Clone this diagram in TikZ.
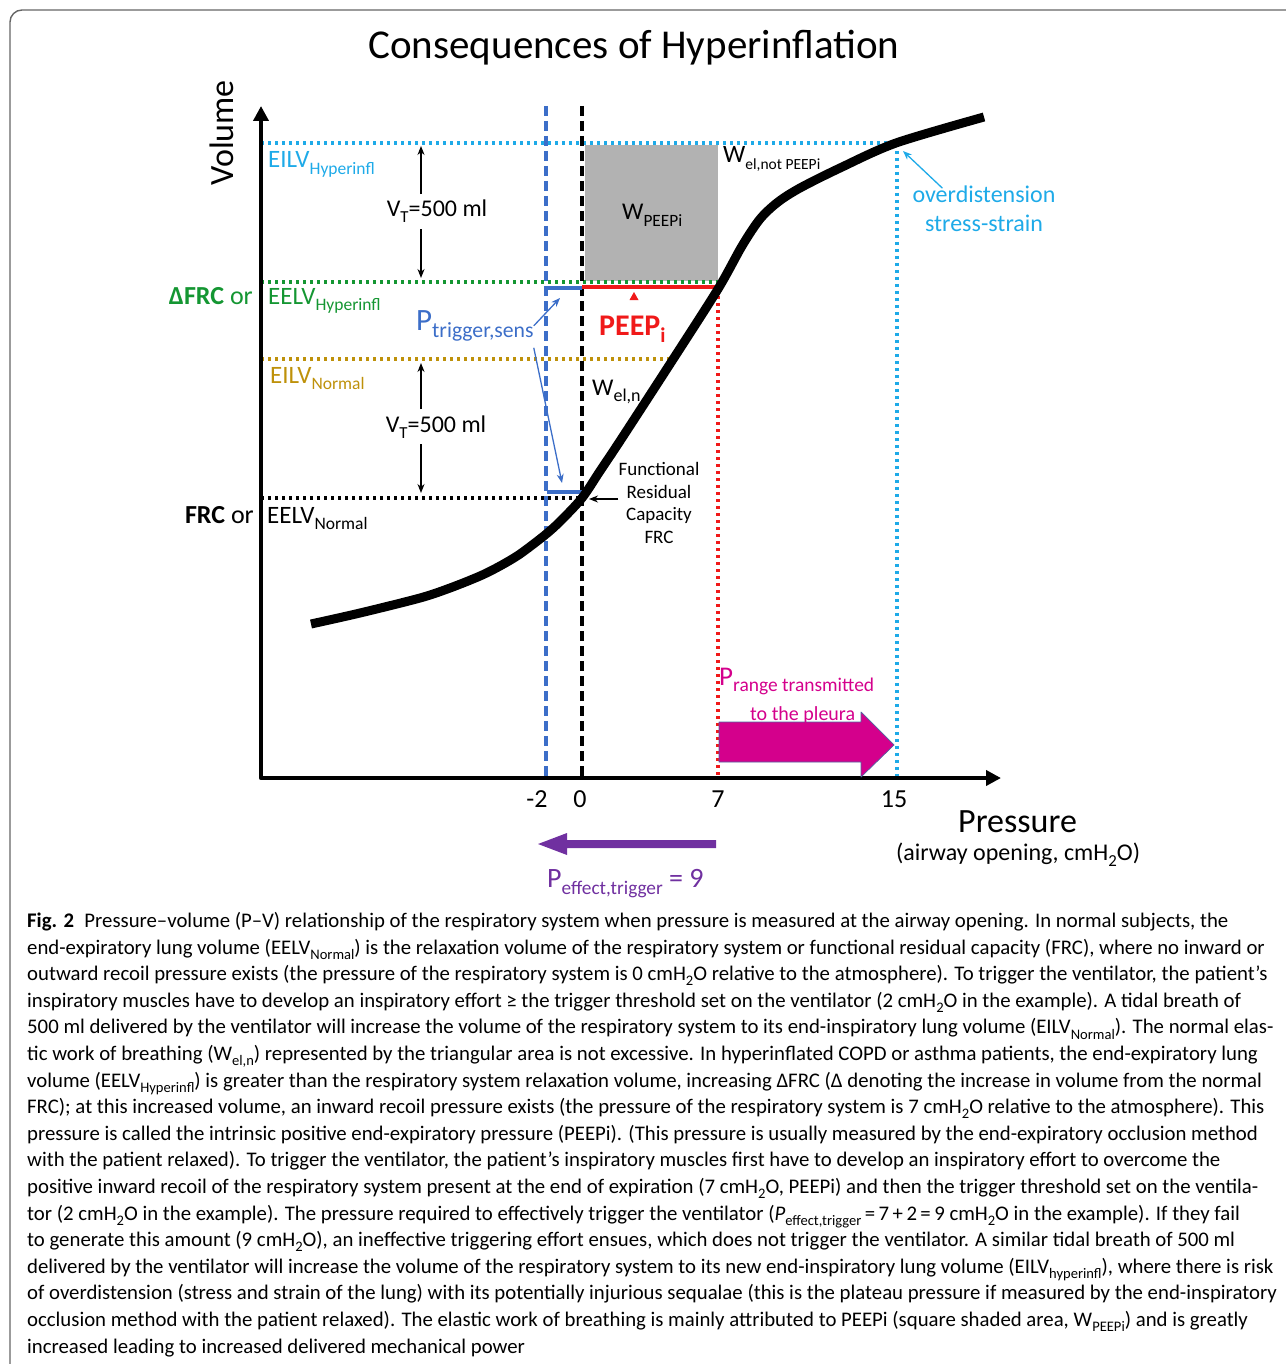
\documentclass[tikz,border=0pt]{standalone}
\usepackage{fontspec}
\setmainfont{Carlito}
\usetikzlibrary{arrows.meta}
\definecolor{skyc}{RGB}{30,170,232}
\definecolor{grnc}{RGB}{20,150,50}
\definecolor{goldc}{RGB}{190,145,10}
\definecolor{bluec}{RGB}{60,110,200}
\definecolor{redc}{RGB}{240,25,25}
\definecolor{magc}{RGB}{212,0,140}
\definecolor{purc}{RGB}{112,48,160}
\makeatletter
\newcommand{\fs}[1]{\fontsize{#1}{#1}\selectfont}
\newcommand{\lo}[2][.7]{\raisebox{-.25em}{\fontsize{\the\dimexpr#1\dimexpr\f@size pt\relax\relax}{0pt}\selectfont #2}}
\makeatother
\begin{document}
\begin{tikzpicture}[x=1pt,y=-1pt,line join=round,>={Stealth[length=9pt,width=7pt]},
  lbl/.style={inner sep=0pt,anchor=base west},
  lvl/.style={line width=3.4pt,dash pattern=on 3.4pt off 3.6pt},
  vdash/.style={line width=3.4pt,dash pattern=on 10pt off 5pt},
  thinarr/.style={->,line width=1.3pt}]
\useasboundingbox (0,0) rectangle (1285,1364);
\def\xax{261} \def\yax{778}
% frame and title
\draw[black!60,line width=1.4pt,rounded corners=12pt] (10,10) rectangle (1330,1400);
\node[font=\fs{41},inner sep=0pt,anchor=base] (title) at (634,59) {Consequences of Hyperinflation};
% work of PEEPi
\fill[black!30] (585,145) rectangle (718,281);
% volume levels
\coordinate (eilvH) at (\xax,143);
\coordinate (eelvH) at (\xax,282);
\coordinate (eilvN) at (\xax,359);
\coordinate (eelvN) at (\xax,498);
\draw[lvl,skyc] (eilvH) -- (897,143) -- (897,\yax);
\draw[lvl,grnc] (eelvH) -- (718,282);
\draw[lvl,goldc] (eilvN) -- (672,359);
\draw[lvl] (eelvN) -- (588,498);
\draw[lvl,redc] (718,289) -- (718,\yax);
\draw[vdash,bluec] (546,106) -- (546,\yax);
\draw[vdash] (582,106) -- (582,\yax);
\draw[bluec,line width=4pt] (547,288) -- (582,288);
\draw[bluec,line width=4pt] (547,492) -- (582,492);
\draw[redc,line width=4pt] (582,287) -- (718,287);
\fill[redc] (634,292) -- (638.5,300) -- (629.5,300) -- cycle;
% P-V curve
\draw[line width=9pt] plot[smooth,tension=0.5] coordinates {(311,624) (360,613) (420,598) (450,588) (480,576) (500,566) (520,554) (545,535) (560,521.5) (582,498) (600,471) (620,441) (670,364) (718,289) (742,246) (760,219) (778,202) (800,188) (840,168) (896,143) (984,117)};
% axes
\coordinate (O) at (\xax,\yax);
\coordinate (ytip) at (\xax,106);
\coordinate (xtip) at (1001,\yax);
\draw[line width=4.5pt,{Triangle[length=15pt,width=15pt]}-{Triangle[length=15pt,width=15pt]}] (ytip) -- (O) -- (xtip);
\node[font=\fs{34},rotate=90,inner sep=0pt] (vol) at (222,133) {Volume};
\foreach \x/\t [count=\i] in {537/-2,580/0,718/7,894/15}
  \node[font=\fs{26},anchor=base,inner sep=0pt] (tk\i) at (\x,807) {\t};
\node[lbl,font=\fs{34}] (pres) at (958,832) {Pressure};
\node[lbl,font=\fs{24}] (presu) at (896,860) {(airway opening, cmH\lo{2}O)};
% level labels
\node[lbl,font=\fs{25},text=skyc] (lEILVh) at (268,168) {EILV\lo{Hyperinfl}};
\node[lbl,font=\fs{26},text=grnc,anchor=base east] (lDFRC) at (253,304) {\textbf{ΔFRC} or};
\node[lbl,font=\fs{25},text=grnc] (lEELVh) at (268,304) {EELV\lo{Hyperinfl}};
\node[lbl,font=\fs{25},text=goldc] (lEILVn) at (270,383) {EILV\lo{Normal}};
\node[lbl,font=\fs{26},anchor=base east] (lFRC) at (254,523) {\textbf{FRC} or};
\node[lbl,font=\fs{25}] (lEELVn) at (267,523) {EELV\lo{Normal}};
% tidal volumes
\coordinate (vtx) at (421,0);
\node[font=\fs{24},inner sep=6pt,anchor=base] (vtU) at (437,217) {V\lo{T}=500 ml};
\draw[thinarr] (vtU.north -| vtx) -- (vtx |- eilvH) [shorten >=3pt];
\draw[thinarr] (vtU.south -| vtx) -- (vtx |- eelvH) [shorten >=4pt];
\node[font=\fs{24},inner sep=6pt,anchor=base] (vtL) at (436,432) {V\lo{T}=500 ml};
\draw[thinarr] (vtL.north -| vtx) -- (vtx |- eilvN) [shorten >=4pt];
\draw[thinarr] (vtL.south -| vtx) -- (vtx |- eelvN) [shorten >=5pt];
% trigger
\node[lbl,font=\fs{31},text=bluec] (ptrig) at (416,330) {P\lo{trigger,sens}};
\coordinate (trigU) at (560,298);
\coordinate (trigL) at (562,483);
\draw[thinarr,bluec] (ptrig.east) -- (trigU);
\draw[thinarr,bluec] ([yshift=-22pt]ptrig.east) -- (trigL);
\node[lbl,font=\bfseries\fs{30},text=redc] (peep) at (599,335) {PEEP\lo{i}};
% work labels
\node[lbl,font=\fs{24}] (wpeepi) at (622,220) {W\lo[.72]{PEEPi}};
\node[lbl,font=\fs{25}] (welnot) at (723,163) {W\lo[.62]{el,not PEEPi}};
\node[lbl,font=\fs{24}] (weln) at (592,395) {W\lo[.75]{el,n}};
% overdistension
\node[lbl,anchor=base,font=\fs{24},text=skyc] (od1) at (984,203) {overdistension};
\node[lbl,anchor=base,font=\fs{24},text=skyc] (od2) at (984,232) {stress-strain};
\coordinate (ovpt) at (903,151);
\draw[thinarr,skyc] ([xshift=30pt,yshift=-2pt]od1.north west) -- (ovpt);
% FRC
\node[align=center,anchor=north,inner sep=0pt,font=\fontsize{19}{22.7}\selectfont] (frc) at (659,462) {Functional\\Residual\\Capacity\\FRC};
\coordinate (frcpt) at (589,499);
\draw[thinarr] (frc.west |- frcpt) -- (frcpt);
% pressure transmitted to the pleura
\filldraw[fill=magc,draw={rgb,255:red,80;green,100;blue,160},line width=0.7pt] (719,722) -- (861,722) -- (861,712) -- (894,745) -- (861,777) -- (861,762) -- (719,762) -- cycle;
\node[lbl,font=\fs{27},text=magc] (prange) at (719,685) {P\lo[.72]{range transmitted}};
\node[lbl,font=\fs{20},text=magc] (pleura) at (750,720) {to the pleura};
% effective trigger
\fill[purc] (716,840) -- (567,840) -- (567,833) -- (538,844) -- (567,855) -- (567,848) -- (716,848) -- cycle;
\node[lbl,font=\fs{28},text=purc] (peff) at (547,887) {P\lo[.69]{effect,trigger} = 9};
% caption
\node[anchor=north west,inner sep=0pt,align=left,font=\fontsize{20.78}{26.6}\selectfont] (capt) at (27,912) {%
\textbf{Fig. 2}\enspace Pressure–volume (P–V) relationship of the respiratory system when pressure is measured at the airway opening. In normal subjects, the\\
end-expiratory lung volume (EELV\lo{Normal}) is the relaxation volume of the respiratory system or functional residual capacity (FRC), where no inward or\\
outward recoil pressure exists (the pressure of the respiratory system is 0 cmH\lo{2}O relative to the atmosphere). To trigger the ventilator, the patient’s\\
inspiratory muscles have to develop an inspiratory effort ≥ the trigger threshold set on the ventilator (2 cmH\lo{2}O in the example). A tidal breath of\\
500 ml delivered by the ventilator will increase the volume of the respiratory system to its end-inspiratory lung volume (EILV\lo{Normal}). The normal elas-\\
tic work of breathing (W\lo{el,n}) represented by the triangular area is not excessive. In hyperinflated COPD or asthma patients, the end-expiratory lung\\
volume (EELV\lo{Hyperinfl}) is greater than the respiratory system relaxation volume, increasing ΔFRC (Δ denoting the increase in volume from the normal\\
FRC); at this increased volume, an inward recoil pressure exists (the pressure of the respiratory system is 7 cmH\lo{2}O relative to the atmosphere). This\\
pressure is called the intrinsic positive end-expiratory pressure (PEEPi). (This pressure is usually measured by the end-expiratory occlusion method\\
with the patient relaxed). To trigger the ventilator, the patient’s inspiratory muscles first have to develop an inspiratory effort to overcome the\\
positive inward recoil of the respiratory system present at the end of expiration (7 cmH\lo{2}O, PEEPi) and then the trigger threshold set on the ventila-\\
tor (2 cmH\lo{2}O in the example). The pressure required to effectively trigger the ventilator (\textit{P}\lo{effect,trigger}\,=\,7\,+\,2\,=\,9 cmH\lo{2}O in the example). If they fail\\
to generate this amount (9 cmH\lo{2}O), an ineffective triggering effort ensues, which does not trigger the ventilator. A similar tidal breath of 500 ml\\
delivered by the ventilator will increase the volume of the respiratory system to its new end-inspiratory lung volume (EILV\lo{hyperinfl}), where there is risk\\
of overdistension (stress and strain of the lung) with its potentially injurious sequalae (this is the plateau pressure if measured by the end-inspiratory\\
occlusion method with the patient relaxed). The elastic work of breathing is mainly attributed to PEEPi (square shaded area, W\lo{PEEPi}) and is greatly\\
increased leading to increased delivered mechanical power};
\end{tikzpicture}
\end{document}
